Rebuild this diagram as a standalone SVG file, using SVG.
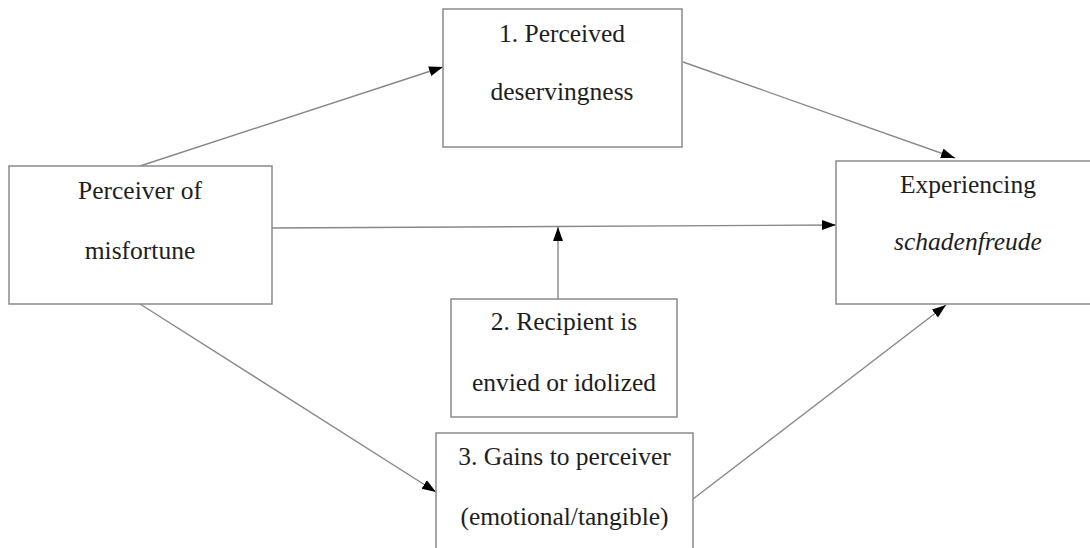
<svg xmlns="http://www.w3.org/2000/svg" width="1090" height="548" viewBox="0 0 1090 548">
<style>
.box{fill:#fff;stroke:#8a8a8a;stroke-width:1.5}
.t{font-family:'Liberation Serif','Times New Roman',serif;font-size:25.5px;fill:#1e1e1e;text-anchor:middle}
.i{font-style:italic}
.c{stroke:#888;stroke-width:1.4;fill:none;marker-end:url(#ah)}
</style>
<defs>
<marker id="ah" markerUnits="userSpaceOnUse" markerWidth="15" markerHeight="12" refX="14" refY="5" orient="auto">
<path d="M0,0 L14,5 L0,10 z" fill="#000"/>
</marker>
</defs>
<rect width="1090" height="548" fill="#fff"/>
<g id="connectors">
<line class="c" x1="140" y1="166" x2="443" y2="67"/>
<line class="c" x1="683" y1="62" x2="955" y2="158"/>
<line class="c" x1="272" y1="228" x2="836" y2="225"/>
<line class="c" x1="558" y1="299" x2="558" y2="227"/>
<line class="c" x1="140" y1="304" x2="436" y2="492"/>
<line class="c" x1="693" y1="499" x2="946" y2="305"/>
</g>
<g id="perceiver">
<rect class="box" x="9" y="166" width="263" height="138"/>
<text class="t" x="140" y="199">Perceiver of</text>
<text class="t" x="140" y="259">misfortune</text>
</g>
<g id="deservingness">
<rect class="box" x="443" y="9" width="239" height="138"/>
<text class="t" x="562" y="42">1. Perceived</text>
<text class="t" x="562" y="100">deservingness</text>
</g>
<g id="schadenfreude">
<rect class="box" x="836" y="161" width="264" height="143"/>
<text class="t" x="968" y="193">Experiencing</text>
<text class="t i" x="968" y="250">schadenfreude</text>
</g>
<g id="recipient">
<rect class="box" x="451" y="299" width="226" height="118"/>
<text class="t" x="564" y="330">2. Recipient is</text>
<text class="t" x="564" y="391">envied or idolized</text>
</g>
<g id="gains">
<rect class="box" x="436" y="433" width="257" height="120"/>
<text class="t" x="564.5" y="465">3. Gains to perceiver</text>
<text class="t" x="564.5" y="525">(emotional/tangible)</text>
</g>
</svg>
